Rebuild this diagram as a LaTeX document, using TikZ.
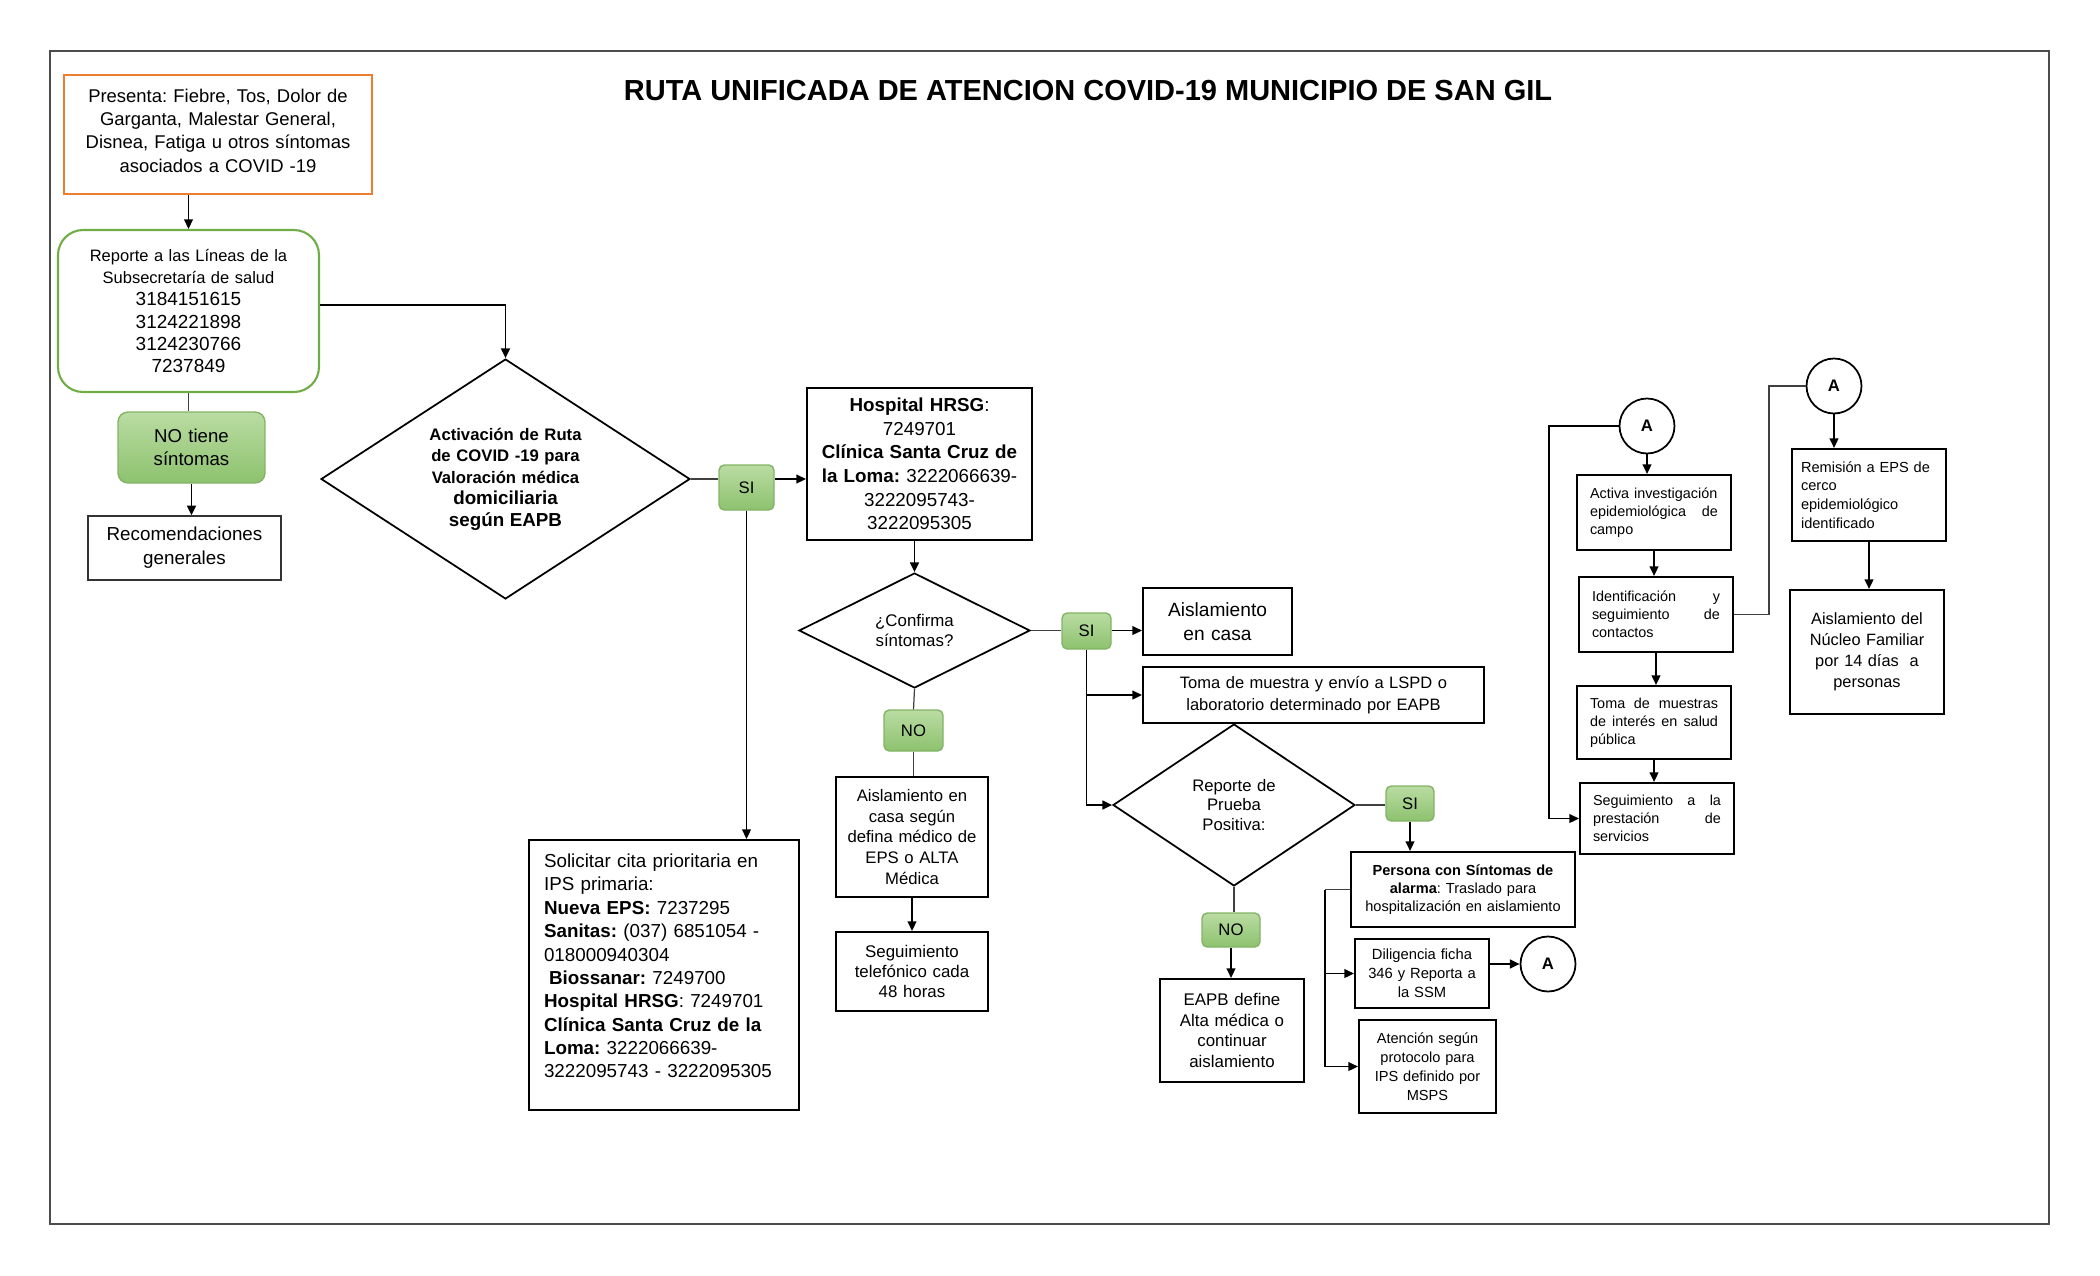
\documentclass[tikz,border=0pt]{standalone}
\usepackage{fontspec}
\setmainfont{Liberation Sans}
\usetikzlibrary{shapes.geometric,arrows.meta}
\frenchspacing

\definecolor{naranja}{HTML}{ED7D31}
\definecolor{verde}{HTML}{70AD47}
\definecolor{verdeclaro}{HTML}{BADCA3}
\definecolor{verdeosc}{HTML}{8DC26E}
\definecolor{bordeverde}{HTML}{82B366}

\newcommand{\fsz}[2]{\fontsize{#1}{#2}\selectfont}

\tikzset{
    caja/.style={draw=black, line width=1.2pt, inner sep=0pt, align=center},
    rombo/.style={diamond, draw=black, line width=1pt, inner sep=0pt, align=center},
    etiq/.style={draw=bordeverde, line width=0.8pt, rounded corners=3pt, top color=verdeclaro, bottom color=verdeosc, inner sep=0pt, align=center, font=\fsz{9.5}{11}},
    conector/.style={circle, draw=black, line width=1pt, inner sep=0pt, minimum size=1.1cm, font=\bfseries\fsz{9.5}{11}},
    flecha/.style={-{Triangle[length=5.5pt,width=5pt]}, line width=1.1pt},
    linea/.style={line width=0.7pt, black!75},
}

\begin{document}
\begin{tikzpicture}[x=0.02cm, y=-0.02cm]
    \useasboundingbox (0,0) rectangle (2100,1275);
    \draw[line width=0.6pt, black!70] (50,51) rectangle (2049,1224);

    \node (titulo) at (1088,91) {\bfseries\fsz{16.5}{20}RUTA UNIFICADA DE ATENCION COVID-19 MUNICIPIO DE SAN GIL};

    % Columna de inicio
    \node[caja, draw=naranja, minimum width=6.16cm, minimum height=2.38cm, text width=5.6cm, font=\fsz{10.5}{13.3}] (sintomas) at (218,134.5)
        {Presenta: Fiebre, Tos, Dolor de\\ Garganta, Malestar General,\\ Disnea, Fatiga u otros síntomas\\ asociados a COVID -19\\[-8.8pt]\mbox{}};
    \node[caja, draw=verde, rounded corners=0.5cm, minimum width=5.22cm, minimum height=3.24cm, text width=4.6cm, font=\fsz{9.4}{12.6}] (reporte) at (188.5,311)
        {Reporte a las Líneas de la\\ Subsecretaría de salud\\ \fsz{10.8}{12.6}3184151615\\ 3124221898\\ 3124230766\\ 7237849};
    \node[etiq, rounded corners=0.2cm, minimum width=2.94cm, minimum height=1.42cm, text width=2.6cm, font=\fsz{10.6}{13}] (notiene) at (191.5,447.5) {NO tiene\\ síntomas};
    \node[caja, line width=0.8pt, draw=black!80, minimum width=3.86cm, minimum height=1.28cm, text width=3.5cm, font=\fsz{10.7}{13.7}] (recom) at (184.5,548) {Recomendaciones\\ generales};

    % Activacion de ruta
    \node[rombo, aspect=1.5, minimum width=7.38cm, minimum height=4.8cm, text width=3.2cm, font=\bfseries\fsz{9.5}{12.2}] (activacion) at (505.5,479)
        {Activación de Ruta\\ de COVID -19 para\\ Valoración médica\\ \fsz{10.7}{12.2}domiciliaria\\ según EAPB};
    \node[etiq, minimum width=1.1cm, minimum height=0.9cm] (si1) at (746.5,487.5) {SI};
    \node[caja, minimum width=4.5cm, minimum height=3.04cm, text width=4.2cm, font=\fsz{10.7}{13.4}] (hospital) at (919.5,464)
        {\textbf{Hospital HRSG}:\\ 7249701\\ \textbf{Clínica Santa Cruz de}\\ \textbf{la Loma:} 3222066639-\\ 3222095743-\\ 3222095305};
    \node[caja, align=left, minimum width=5.4cm, minimum height=5.4cm, text width=4.8cm, font=\fsz{10.7}{13.3}] (cita) at (664,975)
        {Solicitar cita prioritaria en\\ IPS primaria:\\ \textbf{Nueva EPS:} 7237295\\ \textbf{Sanitas:} (037) 6851054 -\\ 018000940304\\ \hspace*{0.1cm}\textbf{Biossanar:} 7249700\\ \textbf{Hospital HRSG}: 7249701\\ \textbf{Clínica Santa Cruz de la}\\ \textbf{Loma:} 3222066639-\\ 3222095743 - 3222095305\\[-3pt]\mbox{}};

    % Confirma sintomas
    \node[rombo, aspect=2, minimum width=4.62cm, minimum height=2.3cm, text width=1.7cm, font=\fsz{9.6}{11.8}] (confirma) at (914.5,630.5) {¿Confirma\\ síntomas?};
    \node[etiq, minimum width=0.98cm, minimum height=0.72cm] (si2) at (1086.5,631) {SI};
    \node[etiq, minimum width=1.18cm, minimum height=0.82cm] (no1) at (913.5,730.5) {NO};
    \node[caja, minimum width=3.04cm, minimum height=2.4cm, text width=2.8cm, font=\fsz{9.5}{11.8}] (aislsegun) at (912,837)
        {Aislamiento en\\ casa según\\ defina médico de\\ EPS o ALTA\\ Médica};
    \node[caja, minimum width=3.04cm, minimum height=1.58cm, text width=2.8cm, font=\fsz{9.6}{11.4}] (segtel) at (912,971.5)
        {Seguimiento\\ telefónico cada\\ 48 horas};
    \node[caja, minimum width=2.98cm, minimum height=1.34cm, text width=2.7cm, font=\fsz{10.9}{13.7}] (aislcasa) at (1217.5,621.5) {Aislamiento\\ en casa};
    \node[caja, minimum width=6.82cm, minimum height=1.12cm, text width=6.4cm, font=\fsz{9.4}{12.2}] (muestra) at (1313.5,695)
        {Toma de muestra y envío a LSPD o\\ laboratorio determinado por EAPB};

    % Reporte de prueba
    \node[rombo, aspect=1.5, minimum width=4.84cm, minimum height=3.24cm, text width=1.9cm, font=\fsz{9.5}{11}] (prueba) at (1234,805) {Reporte de\\ Prueba\\ Positiva:};
    \node[etiq, minimum width=0.96cm, minimum height=0.7cm] (si3) at (1410,803.5) {SI};
    \node[etiq, minimum width=1.16cm, minimum height=0.68cm] (no2) at (1231,930) {NO};
    \node[caja, minimum width=2.88cm, minimum height=2.06cm, text width=2.7cm, font=\fsz{9.6}{11.8}] (eapb) at (1232,1030.5)
        {EAPB define\\ Alta médica o\\ continuar\\ aislamiento};
    \node[caja, minimum width=4.48cm, minimum height=1.5cm, text width=4.2cm, font=\fsz{8.3}{10.3}] (alarma) at (1463,889.5)
        {\textbf{Persona con Síntomas de}\\ \textbf{alarma}: Traslado para\\ hospitalización en aislamiento};
    \node[caja, minimum width=2.68cm, minimum height=1.38cm, text width=2.5cm, font=\fsz{8.4}{10.7}] (ficha) at (1422,973.5)
        {Diligencia ficha\\ 346 y Reporta a\\ la SSM};
    \node[conector] (a1) at (1548,964) {A};
    \node[caja, minimum width=2.74cm, minimum height=1.86cm, text width=2.5cm, font=\fsz{8.3}{10.7}] (protocolo) at (1427.5,1066.5)
        {Atención según\\ protocolo para\\ IPS definido por\\ MSPS};

    % Conector A: investigacion
    \node[conector] (a2) at (1647,426) {A};
    \node[caja, align=left, minimum width=3.08cm, minimum height=1.5cm, text width=2.56cm, font=\fsz{8.2}{10.3}] (investiga) at (1654,512.5)
        {Activa investigación\\ epidemiológica\hfill de\\ campo};
    \node[caja, align=left, minimum width=3.08cm, minimum height=1.5cm, text width=2.56cm, font=\fsz{8.2}{10.3}] (contactos) at (1656,614.5)
        {Identificación\hfill y\\ seguimiento\hfill de\\ contactos};
    \node[caja, align=left, minimum width=3.08cm, minimum height=1.46cm, text width=2.56cm, font=\fsz{8.2}{10.3}] (interes) at (1654,722.5)
        {Toma\hfill de\hfill muestras\\ de\hfill interés\hfill en\hfill salud\\ pública};
    \node[caja, align=left, minimum width=3.08cm, minimum height=1.42cm, text width=2.56cm, font=\fsz{8.2}{10.3}] (prestacion) at (1657,818.5)
        {Seguimiento\hfill a\hfill la\\ prestación\hfill de\\ servicios};

    % Conector A: cerco
    \node[conector] (a3) at (1834,386) {A};
    \node[caja, align=left, minimum width=3.08cm, minimum height=1.84cm, text width=2.72cm, font=\fsz{8.3}{10.7}] (remision) at (1869,495)
        {Remisión a EPS de\\ cerco\\ epidemiológico\\ identificado};
    \node[caja, minimum width=3.08cm, minimum height=2.48cm, text width=2.8cm, font=\fsz{9.3}{12}] (nucleo) at (1867,652)
        {Aislamiento del\\ Núcleo Familiar\\ por 14 días\ \ a\\ personas};

    % Flechas
    \draw[flecha] (reporte.north |- sintomas.south) -- (reporte.north);
    \draw[flecha] ([yshift=0.12cm]reporte.east) -| (activacion.north);
    \draw[linea] (reporte.south) -- (reporte.south |- notiene.north);
    \draw[flecha] (notiene.south) -- (notiene.south |- recom.north);
    \draw[linea] (activacion.east) -- (activacion.east -| si1.west);
    \draw[flecha] (activacion.east -| si1.east) -- (activacion.east -| hospital.west);
    \draw[flecha] (si1.south) -- (si1.south |- cita.north);
    \draw[flecha] (hospital.south -| confirma.north) -- (confirma.north);
    \draw[linea] (confirma.east) -- (confirma.east -| si2.west);
    \draw[flecha] (confirma.east -| si2.east) -- (confirma.east -| aislcasa.west);
    \draw[flecha] (si2.south) |- (muestra.west);
    \draw[flecha] (si2.south) |- (prueba.west);
    \draw[linea] (confirma.south) -- (no1.north);
    \draw[linea] (no1.south) -- (no1.south |- aislsegun.north);
    \draw[flecha] (aislsegun.south) -- (segtel.north);
    \draw[linea] (prueba.east) -- (prueba.east -| si3.west);
    \draw[flecha] (si3.south) -- (si3.south |- alarma.north);
    \draw[linea] (prueba.south) -- (prueba.south |- no2.north);
    \draw[flecha] (no2.south) -- (no2.south |- eapb.north);
    \draw[linea] (alarma.west) -- ++(-0.5cm,0) coordinate (ramal);
    \draw[flecha] (ramal) |- (ficha.west);
    \draw[flecha] (ramal) |- (protocolo.west);
    \draw[flecha] (a1.west -| ficha.east) -- (a1.west);
    \draw[flecha] (a2.south) -- (a2.south |- investiga.north);
    \draw[flecha] (a2.west) -- ++(-1.4cm,0) |- (prestacion.west);
    \draw[flecha] (investiga.south) -- (investiga.south |- contactos.north);
    \draw[flecha] (contactos.south) -- (contactos.south |- interes.north);
    \draw[flecha] (interes.south) -- (interes.south |- prestacion.north);
    \draw[linea] (contactos.east) -- ++(0.7cm,0) |- (a3.west);
    \draw[flecha] (a3.south) -- (a3.south |- remision.north);
    \draw[flecha] (remision.south) -- (remision.south |- nucleo.north);

\end{tikzpicture}
\end{document}
